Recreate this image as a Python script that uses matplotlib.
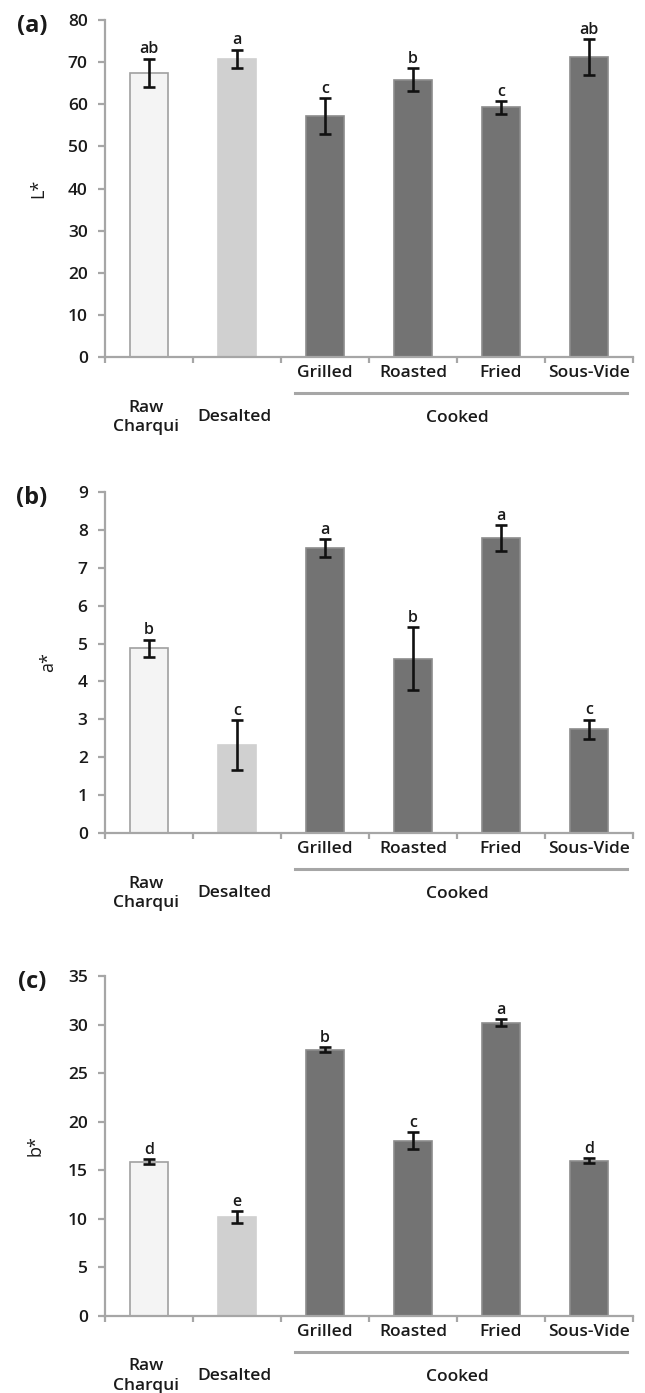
import numpy as np
import matplotlib
matplotlib.use("Agg")
import matplotlib.pyplot as plt
from matplotlib.transforms import ScaledTranslation, blended_transform_factory

plt.rcParams['font.family'] = ['Open Sans', 'DejaVu Sans']
plt.rcParams['font.weight'] = 'semibold'

# categories and readings (mean, sd) for each colour coordinate
groups = ["Raw\nCharqui", "Desalted", "Grilled", "Roasted", "Fried", "Sous-Vide"]
cooked_label = "Cooked"

L_mean = [67.5, 70.8, 57.2, 65.8, 59.3, 71.2]
L_err = [3.3, 2.2, 4.3, 2.7, 1.5, 4.2]
L_letters = ["ab", "a", "c", "b", "c", "ab"]

a_mean = [4.87, 2.33, 7.52, 4.60, 7.78, 2.74]
a_err = [0.23, 0.65, 0.23, 0.83, 0.33, 0.25]
a_letters = ["b", "c", "a", "b", "a", "c"]

b_mean = [15.9, 10.2, 27.4, 18.05, 30.2, 16.0]
b_err = [0.25, 0.6, 0.25, 0.85, 0.35, 0.25]
b_letters = ["d", "e", "b", "c", "a", "d"]

panels = [
    ("(a)", "L*", L_mean, L_err, L_letters, 80, 10),
    ("(b)", "a*", a_mean, a_err, a_letters, 9, 1),
    ("(c)", "b*", b_mean, b_err, b_letters, 35, 5),
]

W, H = 645, 1393
AX_GRAY = "#a6a6a6"
TXT = "#1a1a1a"
FS = 12.5
fill_cols = ["#f4f4f4", "#d0d0d0"] + ["#737373"] * 4
edge_cols = ["#a0a0a0", "#d0d0d0"] + ["#8c8c8c"] * 4

# pixel boxes (top, bottom) of each plot area
boxes = [(20, 357.3), (491.7, 833.3), (976, 1316)]
ylab_x = [-0.110, -0.091, -0.114]
left_px, right_px = 105, 633

fig = plt.figure(figsize=(W / 100, H / 100), dpi=100)

for i, (tag, ylab, means, errs, letters, ymax, step) in enumerate(panels):
    top, bot = boxes[i]
    ax = fig.add_axes([left_px / W, 1 - bot / H, (right_px - left_px) / W, (bot - top) / H])
    x = np.arange(len(groups))
    ax.bar(x, means, width=0.43, color=fill_cols, edgecolor=edge_cols, linewidth=1.2, zorder=2)
    ax.errorbar(x, means, yerr=errs, fmt="none", ecolor="#111111", elinewidth=1.9,
                capsize=4, capthick=1.9, zorder=3)
    for xi, m, e, lt in zip(x, means, errs, letters):
        ax.annotate(lt, (xi, m + e), xytext=(0, 1), textcoords="offset points",
                    ha="center", va="bottom", fontsize=11.5, color=TXT)

    ax.set_xlim(-0.5, len(groups) - 0.5)
    ax.set_ylim(0, ymax)
    ax.set_yticks(np.arange(0, ymax + step / 2, step))
    ax.set_xticks(np.arange(-0.5, len(groups), 1.0))
    ax.set_xticklabels([])
    for s in ("top", "right"):
        ax.spines[s].set_visible(False)
    for s in ("left", "bottom"):
        ax.spines[s].set_color(AX_GRAY)
        ax.spines[s].set_linewidth(1.6)
    ax.tick_params(axis="y", direction="out", length=5, width=1.6, color=AX_GRAY,
                   labelsize=FS, pad=7.5, labelcolor=TXT)
    ax.tick_params(axis="x", direction="out", length=4, width=1.6, color=AX_GRAY)

    ax.set_ylabel(ylab, fontsize=FS + 0.5, color=TXT)
    ax.yaxis.set_label_coords(ylab_x[i], 0.5)

    # two-level category labels
    for xi in x[2:]:
        ax.annotate(groups[xi], (xi, 0), xycoords=("data", "axes fraction"),
                    xytext=(0, -16 * 0.72), textcoords="offset points",
                    ha="center", va="center", fontsize=FS, color=TXT)
    ax.annotate(groups[0], (-0.03, 0), xycoords=("data", "axes fraction"),
                xytext=(0, -60 * 0.72), textcoords="offset points",
                ha="center", va="center", fontsize=FS, color=TXT, linespacing=1.25)
    ax.annotate(groups[1], (0.97, 0), xycoords=("data", "axes fraction"),
                xytext=(0, -60 * 0.72), textcoords="offset points",
                ha="center", va="center", fontsize=FS, color=TXT)
    tr = blended_transform_factory(ax.transData, ax.transAxes) + \
        ScaledTranslation(0, -36 / 100, fig.dpi_scale_trans)
    ax.plot([1.66, 5.43], [0, 0], color=AX_GRAY, lw=2.2, transform=tr, clip_on=False)
    ax.annotate(cooked_label, (3.5, 0), xycoords=("data", "axes fraction"),
                xytext=(0, -61 * 0.72), textcoords="offset points",
                ha="center", va="center", fontsize=FS, color=TXT)

    fig.text(32 / W, 1 - (top + 6) / H, tag, fontsize=17, fontweight="bold",
             ha="center", va="center", color=TXT)

fig.savefig("out.png", dpi=100)
